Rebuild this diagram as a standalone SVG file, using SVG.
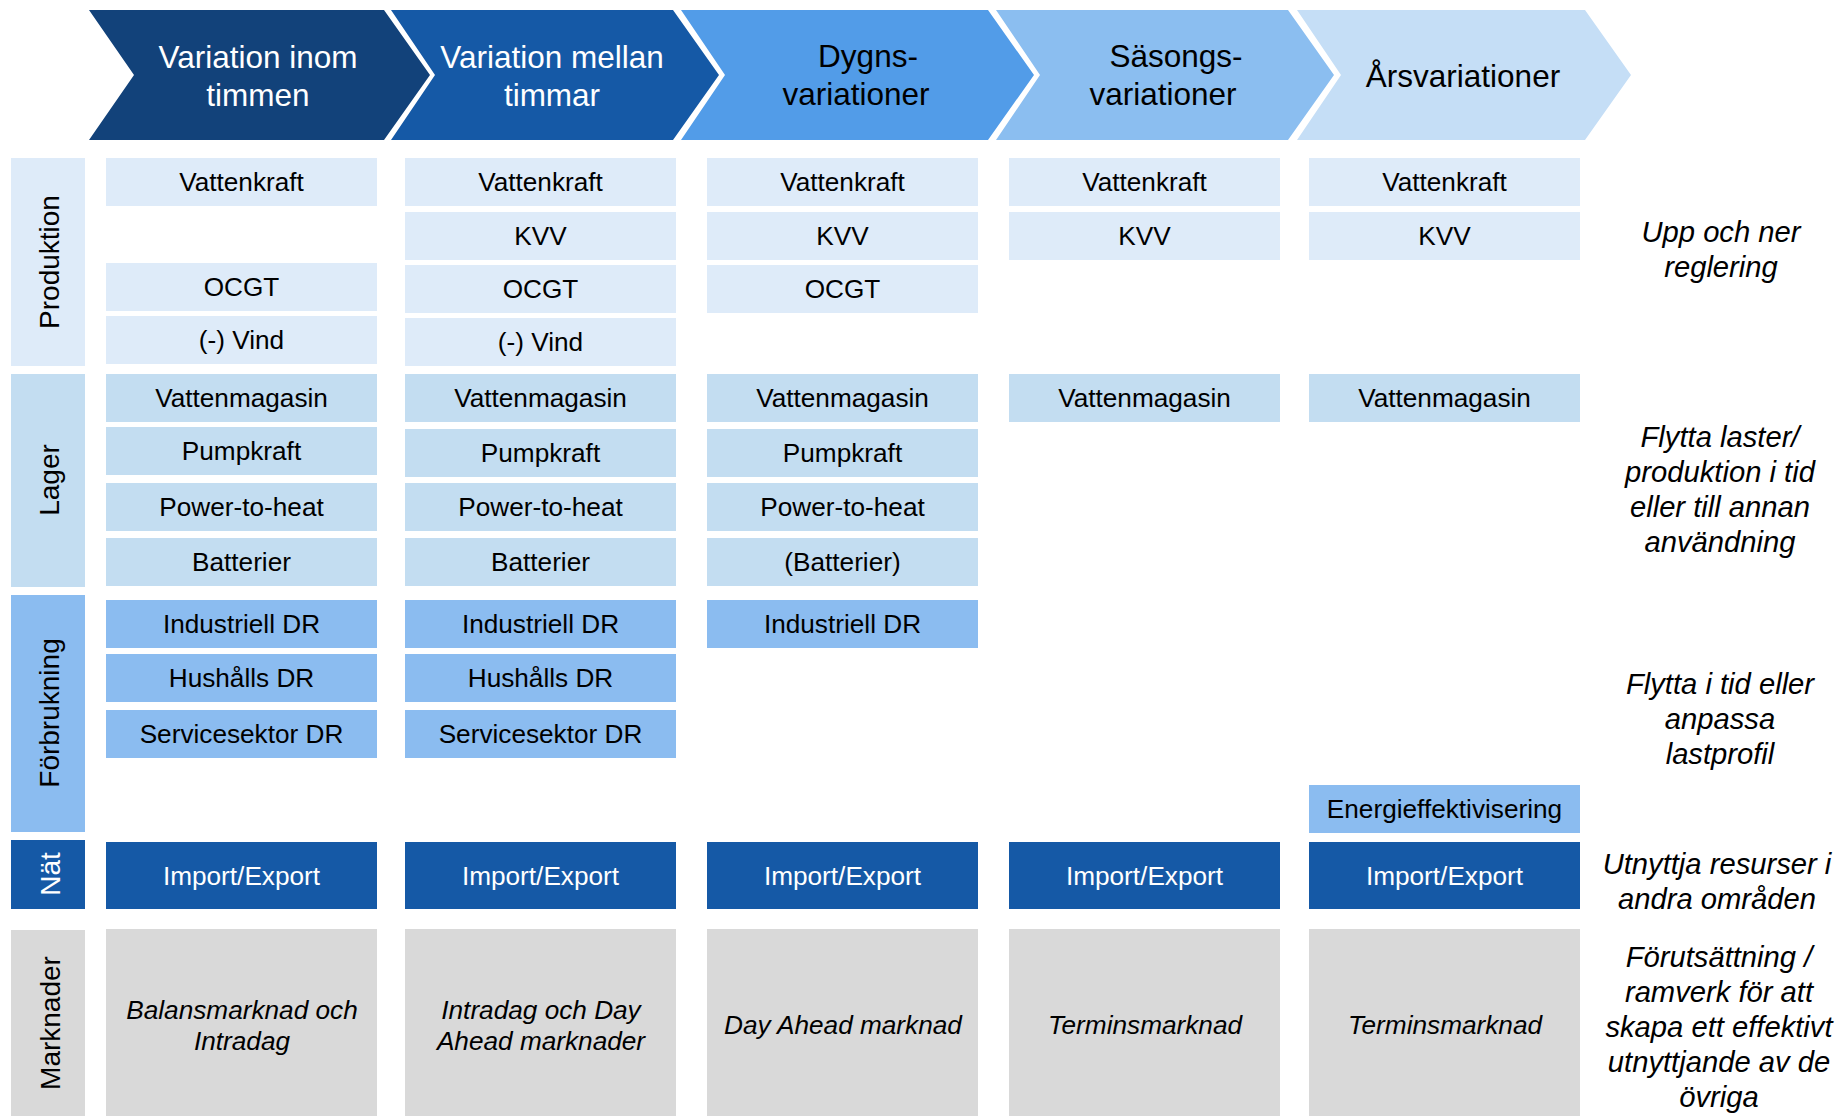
<svg xmlns="http://www.w3.org/2000/svg" width="1839" height="1116" viewBox="0 0 1839 1116">
<style>
text{font-family:"Liberation Sans",Arial,sans-serif;text-anchor:middle;fill:#000}
.ch{font-size:31.5px}
.w{fill:#fff}
.c{font-size:26.2px}
.lab{font-size:28px}
.it{font-size:29.2px;font-style:italic}
.mk{font-size:26.2px;font-style:italic}
.p{fill:#DEEBF9}
.l{fill:#C3DDF1}
.f{fill:#8BBCF0}
.n{fill:#1559A6}
.m{fill:#D9D9D9}
</style>
<rect width="1839" height="1116" fill="#fff"/>

<g id="chevron-1">
<polygon points="89,10 384,10 430,75 384,140 89,140 134,75" fill="#12427A"/>
<text class="ch w" x="258" y="68">Variation inom</text>
<text class="ch w" x="258" y="106">timmen</text>
</g>
<g id="chevron-2">
<polygon points="391,10 673,10 719,75 673,140 391,140 435,75" fill="#1559A6"/>
<text class="ch w" x="552" y="68">Variation mellan</text>
<text class="ch w" x="552" y="106">timmar</text>
</g>
<g id="chevron-3">
<polygon points="681,10 988,10 1034,75 988,140 681,140 725,75" fill="#529CE8"/>
<text class="ch" x="868" y="67">Dygns-</text>
<text class="ch" x="856" y="105">variationer</text>
</g>
<g id="chevron-4">
<polygon points="996,10 1288,10 1334,75 1288,140 996,140 1040,75" fill="#8BBEF0"/>
<text class="ch" x="1176" y="67">Säsongs-</text>
<text class="ch" x="1163" y="105">variationer</text>
</g>
<g id="chevron-5">
<polygon points="1297,10 1585,10 1631,75 1585,140 1297,140 1341,75" fill="#C5DEF6"/>
<text class="ch" x="1463" y="87">Årsvariationer</text>
</g>

<g id="label-produktion">
<rect class="p" x="11" y="158" width="74" height="208"/>
<text class="lab" transform="translate(59,262) rotate(-90)">Produktion</text>
</g>
<g id="label-lager">
<rect class="l" x="11" y="374" width="74" height="213"/>
<text class="lab" transform="translate(59,480) rotate(-90)">Lager</text>
</g>
<g id="label-forbrukning">
<rect class="f" x="11" y="595" width="74" height="237"/>
<text class="lab" transform="translate(59,713) rotate(-90)">Förbrukning</text>
</g>
<g id="label-nat">
<rect class="n" x="11" y="840" width="74" height="69"/>
<text class="lab w" transform="translate(60,874) rotate(-90)">Nät</text>
</g>
<g id="label-marknader">
<rect class="m" x="11" y="930" width="74" height="186"/>
<text class="lab" transform="translate(60,1023) rotate(-90)">Marknader</text>
</g>

<!-- Produktion -->
<g id="p-vatten-1"><rect class="p" x="106" y="158" width="271" height="48"/><text class="c" x="241.5" y="191">Vattenkraft</text></g>
<g id="p-vatten-2"><rect class="p" x="405" y="158" width="271" height="48"/><text class="c" x="540.5" y="191">Vattenkraft</text></g>
<g id="p-vatten-3"><rect class="p" x="707" y="158" width="271" height="48"/><text class="c" x="842.5" y="191">Vattenkraft</text></g>
<g id="p-vatten-4"><rect class="p" x="1009" y="158" width="271" height="48"/><text class="c" x="1144.5" y="191">Vattenkraft</text></g>
<g id="p-vatten-5"><rect class="p" x="1309" y="158" width="271" height="48"/><text class="c" x="1444.5" y="191">Vattenkraft</text></g>

<g id="p-kvv-2"><rect class="p" x="405" y="212" width="271" height="48"/><text class="c" x="540.5" y="245">KVV</text></g>
<g id="p-kvv-3"><rect class="p" x="707" y="212" width="271" height="48"/><text class="c" x="842.5" y="245">KVV</text></g>
<g id="p-kvv-4"><rect class="p" x="1009" y="212" width="271" height="48"/><text class="c" x="1144.5" y="245">KVV</text></g>
<g id="p-kvv-5"><rect class="p" x="1309" y="212" width="271" height="48"/><text class="c" x="1444.5" y="245">KVV</text></g>

<g id="p-ocgt-1"><rect class="p" x="106" y="263" width="271" height="48"/><text class="c" x="241.5" y="296">OCGT</text></g>
<g id="p-ocgt-2"><rect class="p" x="405" y="265" width="271" height="48"/><text class="c" x="540.5" y="298">OCGT</text></g>
<g id="p-ocgt-3"><rect class="p" x="707" y="265" width="271" height="48"/><text class="c" x="842.5" y="298">OCGT</text></g>

<g id="p-vind-1"><rect class="p" x="106" y="316" width="271" height="48"/><text class="c" x="241.5" y="349">(-) Vind</text></g>
<g id="p-vind-2"><rect class="p" x="405" y="318" width="271" height="48"/><text class="c" x="540.5" y="351">(-) Vind</text></g>

<!-- Lager -->
<g id="l-magasin-1"><rect class="l" x="106" y="374" width="271" height="48"/><text class="c" x="241.5" y="407">Vattenmagasin</text></g>
<g id="l-magasin-2"><rect class="l" x="405" y="374" width="271" height="48"/><text class="c" x="540.5" y="407">Vattenmagasin</text></g>
<g id="l-magasin-3"><rect class="l" x="707" y="374" width="271" height="48"/><text class="c" x="842.5" y="407">Vattenmagasin</text></g>
<g id="l-magasin-4"><rect class="l" x="1009" y="374" width="271" height="48"/><text class="c" x="1144.5" y="407">Vattenmagasin</text></g>
<g id="l-magasin-5"><rect class="l" x="1309" y="374" width="271" height="48"/><text class="c" x="1444.5" y="407">Vattenmagasin</text></g>

<g id="l-pump-1"><rect class="l" x="106" y="427" width="271" height="48"/><text class="c" x="241.5" y="460">Pumpkraft</text></g>
<g id="l-pump-2"><rect class="l" x="405" y="429" width="271" height="48"/><text class="c" x="540.5" y="462">Pumpkraft</text></g>
<g id="l-pump-3"><rect class="l" x="707" y="429" width="271" height="48"/><text class="c" x="842.5" y="462">Pumpkraft</text></g>

<g id="l-p2h-1"><rect class="l" x="106" y="483" width="271" height="48"/><text class="c" x="241.5" y="516">Power-to-heat</text></g>
<g id="l-p2h-2"><rect class="l" x="405" y="483" width="271" height="48"/><text class="c" x="540.5" y="516">Power-to-heat</text></g>
<g id="l-p2h-3"><rect class="l" x="707" y="483" width="271" height="48"/><text class="c" x="842.5" y="516">Power-to-heat</text></g>

<g id="l-batt-1"><rect class="l" x="106" y="538" width="271" height="48"/><text class="c" x="241.5" y="571">Batterier</text></g>
<g id="l-batt-2"><rect class="l" x="405" y="538" width="271" height="48"/><text class="c" x="540.5" y="571">Batterier</text></g>
<g id="l-batt-3"><rect class="l" x="707" y="538" width="271" height="48"/><text class="c" x="842.5" y="571">(Batterier)</text></g>

<!-- Förbrukning -->
<g id="f-ind-1"><rect class="f" x="106" y="600" width="271" height="48"/><text class="c" x="241.5" y="633">Industriell DR</text></g>
<g id="f-ind-2"><rect class="f" x="405" y="600" width="271" height="48"/><text class="c" x="540.5" y="633">Industriell DR</text></g>
<g id="f-ind-3"><rect class="f" x="707" y="600" width="271" height="48"/><text class="c" x="842.5" y="633">Industriell DR</text></g>

<g id="f-hush-1"><rect class="f" x="106" y="654" width="271" height="48"/><text class="c" x="241.5" y="687">Hushålls DR</text></g>
<g id="f-hush-2"><rect class="f" x="405" y="654" width="271" height="48"/><text class="c" x="540.5" y="687">Hushålls DR</text></g>

<g id="f-serv-1"><rect class="f" x="106" y="710" width="271" height="48"/><text class="c" x="241.5" y="743">Servicesektor DR</text></g>
<g id="f-serv-2"><rect class="f" x="405" y="710" width="271" height="48"/><text class="c" x="540.5" y="743">Servicesektor DR</text></g>

<g id="f-energi-5"><rect class="f" x="1309" y="785" width="271" height="48"/><text class="c" x="1444.5" y="818">Energieffektivisering</text></g>

<!-- Nät -->
<g id="n-ie-1"><rect class="n" x="106" y="842" width="271" height="67"/><text class="c w" x="241.5" y="885">Import/Export</text></g>
<g id="n-ie-2"><rect class="n" x="405" y="842" width="271" height="67"/><text class="c w" x="540.5" y="885">Import/Export</text></g>
<g id="n-ie-3"><rect class="n" x="707" y="842" width="271" height="67"/><text class="c w" x="842.5" y="885">Import/Export</text></g>
<g id="n-ie-4"><rect class="n" x="1009" y="842" width="271" height="67"/><text class="c w" x="1144.5" y="885">Import/Export</text></g>
<g id="n-ie-5"><rect class="n" x="1309" y="842" width="271" height="67"/><text class="c w" x="1444.5" y="885">Import/Export</text></g>

<!-- Marknader -->
<g id="m-1"><rect class="m" x="106" y="929" width="271" height="187"/><text class="mk" x="242" y="1019">Balansmarknad och</text><text class="mk" x="242" y="1050">Intradag</text></g>
<g id="m-2"><rect class="m" x="405" y="929" width="271" height="187"/><text class="mk" x="541" y="1019">Intradag och Day</text><text class="mk" x="541" y="1050">Ahead marknader</text></g>
<g id="m-3"><rect class="m" x="707" y="929" width="271" height="187"/><text class="mk" x="843" y="1034">Day Ahead marknad</text></g>
<g id="m-4"><rect class="m" x="1009" y="929" width="271" height="187"/><text class="mk" x="1145" y="1034">Terminsmarknad</text></g>
<g id="m-5"><rect class="m" x="1309" y="929" width="271" height="187"/><text class="mk" x="1445" y="1034">Terminsmarknad</text></g>

<!-- Right-side descriptions -->
<g id="desc-produktion">
<text class="it" x="1721" y="242">Upp och ner</text>
<text class="it" x="1721" y="277">reglering</text>
</g>
<g id="desc-lager">
<text class="it" x="1720" y="447">Flytta laster/</text>
<text class="it" x="1720" y="482">produktion i tid</text>
<text class="it" x="1720" y="517">eller till annan</text>
<text class="it" x="1720" y="552">användning</text>
</g>
<g id="desc-forbrukning">
<text class="it" x="1720" y="694">Flytta i tid eller</text>
<text class="it" x="1720" y="729">anpassa</text>
<text class="it" x="1720" y="764">lastprofil</text>
</g>
<g id="desc-nat">
<text class="it" x="1717" y="874">Utnyttja resurser i</text>
<text class="it" x="1717" y="909">andra områden</text>
</g>
<g id="desc-marknader">
<text class="it" x="1719" y="967">Förutsättning /</text>
<text class="it" x="1719" y="1002">ramverk för att</text>
<text class="it" x="1719" y="1037">skapa ett effektivt</text>
<text class="it" x="1719" y="1072">utnyttjande av de</text>
<text class="it" x="1719" y="1107">övriga</text>
</g>
</svg>
